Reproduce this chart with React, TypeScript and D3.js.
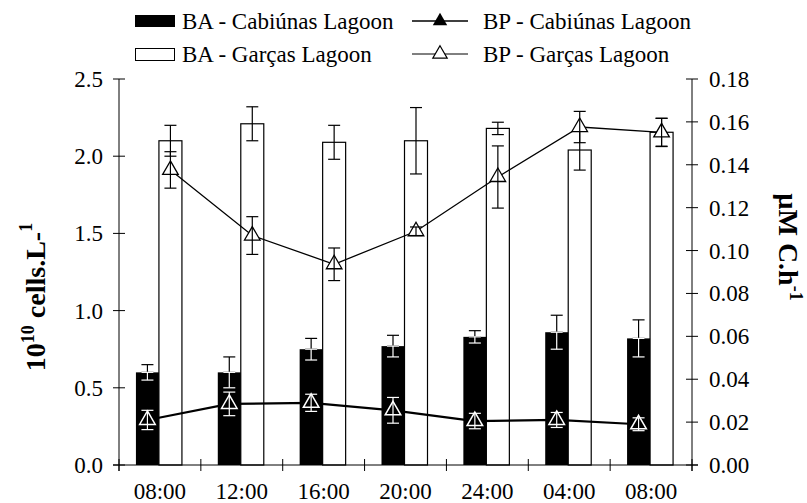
import React from 'react';
import * as d3 from 'd3';

// sampling times (x categories)
const times = ['08:00', '12:00', '16:00', '20:00', '24:00', '04:00', '08:00'];

// bacterial abundance, 10^10 cells.L-1 (left axis)
const baCabiunas = [0.60, 0.60, 0.75, 0.77, 0.83, 0.86, 0.82];
const baCabiunasErr = [0.05, 0.10, 0.07, 0.07, 0.04, 0.11, 0.12];
const baGarcas = [2.10, 2.21, 2.09, 2.10, 2.18, 2.04, 2.155];
const baGarcasErr = [0.10, 0.11, 0.11, 0.215, 0.04, 0.13, 0.09];

// bacterial production, uM C.h-1 (right axis)
const bpCabiunas = [0.021, 0.0285, 0.029, 0.0255, 0.0205, 0.021, 0.019];
const bpCabiunasErr = [0.0045, 0.0055, 0.004, 0.006, 0.0036, 0.0035, 0.003];
const bpGarcas = [0.1376, 0.107, 0.0936, 0.109, 0.1343, 0.1576, 0.1551];
const bpGarcasErr = [0.0085, 0.0088, 0.0076, 0.002, 0.0145, 0.0073, 0.0066];

const leftTicks = [0, 0.5, 1.0, 1.5, 2.0, 2.5];
const rightTicks = [0, 0.02, 0.04, 0.06, 0.08, 0.10, 0.12, 0.14, 0.16, 0.18];

const W = 807;
const H = 503;
const FONT = "'Liberation Serif', 'Times New Roman', serif";

const X0 = 119;
const X1 = 692;
const Y0 = 465;
const Y1 = 79;

const x = d3.scaleBand<number>().domain(times.map((_, i) => i)).range([X0, X1]);
const sub = d3.scaleBand<string>().domain(['cab', 'gar']).range([-24, 22]);
const yL = d3.scaleLinear().domain([0, 2.5]).range([Y0, Y1]);
const yR = d3.scaleLinear().domain([0, 0.18]).range([Y0, Y1]);

const fmtL = d3.format('.1f');
const fmtR = d3.format('.2f');

const tri = d3.symbol().type(d3.symbolTriangle).size(105)()!;
const triLegend = d3.symbol().type(d3.symbolTriangle).size(90)()!;

const cx = (i: number, k: string) => x(i)! + x.bandwidth() / 2 + sub(k)! + sub.bandwidth() / 2;

const ErrBar = ({ px, lo, hi, color, w = 1.2 }: { px: number; lo: number; hi: number; color: string; w?: number }) => (
    <g stroke={color} strokeWidth={w}>
        <line x1={px} x2={px} y1={lo} y2={hi} />
        <line x1={px - 6} x2={px + 6} y1={lo} y2={lo} />
        <line x1={px - 6} x2={px + 6} y1={hi} y2={hi} />
    </g>
);

export default function App() {
    const lineGar = d3.line<number>()
        .x((_, i) => cx(i, 'gar'))
        .y(d => yR(d));
    const lineCab = d3.line<number>()
        .x((_, i) => cx(i, 'cab'))
        .y(d => yR(d));

    const bounds = times.map((_, i) => x(i)!).concat([X1]);

    return (
        <svg width={W} height={H} style={{ position: 'absolute', left: 0, top: 0, background: '#fff', fontFamily: FONT }}>

            {/* legend */}
            <g fontSize={23}>
                <rect x={135} y={15} width={40} height={12} fill="#000" />
                <text x={182} y={28.5}>BA - Cabiúnas Lagoon</text>
                <line x1={412} x2={468} y1={21} y2={21} stroke="#000" strokeWidth={1.5} />
                <path d={triLegend} transform="translate(440,21)" fill="#000" />
                <text x={483} y={28.5}>BP - Cabiúnas Lagoon</text>

                <rect x={135.5} y={48.5} width={39} height={12} fill="#fff" stroke="#000" />
                <text x={182} y={61.5}>BA - Garças Lagoon</text>
                <line x1={412} x2={468} y1={54} y2={54} stroke="#000" strokeWidth={1} />
                <path d={triLegend} transform="translate(440,54)" fill="#fff" stroke="#000" strokeWidth={1.2} />
                <text x={483} y={61.5}>BP - Garças Lagoon</text>
            </g>

            {/* bars */}
            {baGarcas.map((v, i) => (
                <rect key={'g' + i} x={x(i)! + x.bandwidth() / 2 + sub('gar')!} y={yL(v)}
                    width={sub.bandwidth()} height={Y0 - yL(v)} fill="#fff" stroke="#000" strokeWidth={1.2} />
            ))}
            {baCabiunas.map((v, i) => (
                <rect key={'c' + i} x={x(i)! + x.bandwidth() / 2 + sub('cab')!} y={yL(v)}
                    width={sub.bandwidth()} height={Y0 - yL(v)} fill="#000" />
            ))}

            {/* bar errors */}
            {baCabiunas.map((v, i) => (
                <g key={'ce' + i}>
                    <ErrBar px={cx(i, 'cab')} lo={yL(v)} hi={yL(v + baCabiunasErr[i])} color="#000" />
                    <ErrBar px={cx(i, 'cab')} lo={yL(v - baCabiunasErr[i])} hi={yL(v)} color="#fff" />
                </g>
            ))}
            {baGarcas.map((v, i) => (
                <ErrBar key={'ge' + i} px={cx(i, 'gar')} lo={yL(v - baGarcasErr[i])} hi={yL(v + baGarcasErr[i])} color="#000" />
            ))}

            {/* BP Garças */}
            <path d={lineGar(bpGarcas)!} fill="none" stroke="#000" strokeWidth={1.3} />
            {bpGarcas.map((v, i) => (
                <g key={'gp' + i}>
                    <path d={tri} transform={`translate(${cx(i, 'gar')},${yR(v)})`} fill="#fff" stroke="#000" strokeWidth={1.3} />
                    <ErrBar px={cx(i, 'gar')} lo={yR(v - bpGarcasErr[i])} hi={yR(v + bpGarcasErr[i])} color="#000" />
                </g>
            ))}

            {/* BP Cabiúnas */}
            <path d={lineCab(bpCabiunas)!} fill="none" stroke="#000" strokeWidth={2.2} />
            {bpCabiunas.map((v, i) => (
                <g key={'cp' + i}>
                    <path d={tri} transform={`translate(${cx(i, 'cab')},${yR(v)})`} fill="#000" stroke="#fff" strokeWidth={1.5} />
                    <ErrBar px={cx(i, 'cab')} lo={yR(v - bpCabiunasErr[i])} hi={yR(v + bpCabiunasErr[i])} color="#fff" />
                </g>
            ))}

            {/* axes */}
            <g stroke="#000" strokeWidth={1}>
                <line x1={X0} x2={X0} y1={Y1} y2={Y0 + 6} />
                <line x1={X1} x2={X1} y1={Y1} y2={Y0 + 6} />
                <line x1={X0 - 6} x2={X1 + 6} y1={Y0} y2={Y0} />
                {leftTicks.map(t => (
                    <line key={'lt' + t} x1={X0 - 6} x2={X0 + 6} y1={yL(t)} y2={yL(t)} />
                ))}
                {rightTicks.map(t => (
                    <line key={'rt' + t} x1={X1 - 6} x2={X1 + 6} y1={yR(t)} y2={yR(t)} />
                ))}
                {bounds.map((b, i) => (
                    <line key={'bt' + i} x1={b} x2={b} y1={Y0 - 6} y2={Y0 + 6} />
                ))}
            </g>
            <g fontSize={23}>
                {leftTicks.map(t => (
                    <text key={'ll' + t} x={X0 - 16} y={yL(t)} dy="0.35em" textAnchor="end">{fmtL(t)}</text>
                ))}
                {rightTicks.map(t => (
                    <text key={'rl' + t} x={X1 + 17} y={yR(t)} dy="0.35em">{fmtR(t)}</text>
                ))}
                {times.map((t, i) => (
                    <text key={'xl' + i} x={x(i)! + x.bandwidth() / 2} y={499} textAnchor="middle">{t}</text>
                ))}
            </g>

            {/* axis titles */}
            <text transform="translate(45,297) rotate(-90)" textAnchor="middle" fontSize={28} fontWeight="bold">
                10<tspan fontSize={18} dy={-11}>10</tspan><tspan dy={11}> cells.L-</tspan><tspan fontSize={18} dy={-13}>1</tspan>
            </text>
            <text transform="translate(779,247) rotate(90)" textAnchor="middle" fontSize={28} fontWeight="bold">
                µM C.h<tspan fontSize={18} dy={-11}>-1</tspan>
            </text>
        </svg>
    );
}
